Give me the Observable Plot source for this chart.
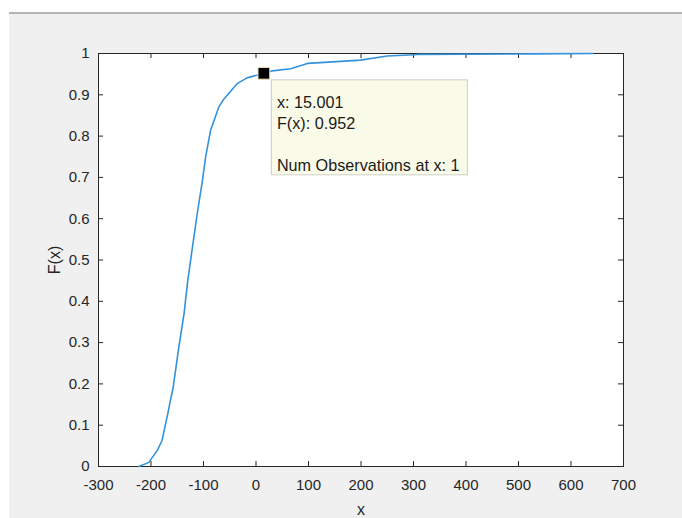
<!DOCTYPE html>
<html><head><meta charset="utf-8">
<script src="https://cdn.jsdelivr.net/npm/d3@7"></script>
<script src="https://cdn.jsdelivr.net/npm/@observablehq/plot@0.6"></script>
<style>
html,body{margin:0;padding:0;background:#fff;}
#fig{position:absolute;left:9px;top:12px;width:673px;height:504px;background:#f0f0f0;border-top:2px solid #b4b4b4;}
#chart{position:absolute;left:0;top:0;}
</style></head><body>
<div id="fig"></div><div id="chart"></div>
<script>
const ecdfX = [-223, -204, -188, -179, -168, -163, -158, -147, -137, -130, -121, -112, -102, -96, -86.5, -71, -61, -36, -17, 15.001, 31, 66, 98, 123, 199, 250, 301, 314, 527, 641];
const ecdfF = [0, 0.01, 0.039, 0.063, 0.128, 0.16, 0.19, 0.289, 0.370, 0.450, 0.531, 0.612, 0.692, 0.749, 0.814, 0.870, 0.890, 0.927, 0.941, 0.952, 0.958, 0.963, 0.976, 0.978, 0.984, 0.994, 0.997, 0.998, 0.999, 1];
const xTicks = [-300, -200, -100, 0, 100, 200, 300, 400, 500, 600, 700];
const yTicks = [0, 0.1, 0.2, 0.3, 0.4, 0.5, 0.6, 0.7, 0.8, 0.9, 1];
const tipX = 15.001;
const tipF = 0.952;
const tipCount = 1;
const xLabel = "x";
const yLabel = "F(x)";

const series = ecdfX.map((x, i) => ({x, y: ecdfF[i]}));
const tip = [{x: tipX, y: tipF}];
const tipText = `x: ${tipX.toFixed(3)}\nF(x): ${tipF.toFixed(3)}\n\nNum Observations at x: ${tipCount}`;

const W = 682, H = 518, mT = 53, mB = 52, mL = 98, mR = 59;
const plotH = H - mT - mB, plotW = W - mL - mR;
const axisColor = "#262626";
const font = "'Liberation Sans', Arial, Helvetica, sans-serif";

const chart = Plot.plot({
  width: W, height: H,
  marginTop: mT, marginBottom: mB, marginLeft: mL, marginRight: mR,
  style: {background: "transparent", fontFamily: font, fontSize: "15px", color: axisColor},
  x: {domain: [-300, 700], label: null},
  y: {domain: [0, 1], label: null},
  marks: [
    Plot.frame({fill: "white", stroke: null}),
    Plot.axisX({ticks: xTicks, tickFormat: d => String(d), tickSize: 0, tickPadding: 13, fontSize: 15, label: null, fill: axisColor}),
    Plot.axisY({ticks: yTicks, tickFormat: d => String(d), tickSize: 0, tickPadding: 9, fontSize: 15, label: null, fill: axisColor}),
    Plot.tickX(xTicks, {x: d => d, stroke: axisColor, insetTop: plotH - 5}),
    Plot.tickX(xTicks, {x: d => d, stroke: axisColor, insetBottom: plotH - 5}),
    Plot.tickY(yTicks, {y: d => d, stroke: axisColor, insetRight: plotW - 5}),
    Plot.tickY(yTicks, {y: d => d, stroke: axisColor, insetLeft: plotW - 5}),
    Plot.frame({stroke: axisColor, strokeWidth: 1}),
    Plot.line(series, {x: "x", y: "y", stroke: "#3392da", strokeWidth: 1.6}),
    Plot.rect(tip, {x1: "x", x2: "x", y1: "y", y2: "y", insetLeft: 8, insetRight: -204, insetTop: 7, insetBottom: -102, fill: "#fafae8", stroke: "#cfcfc6", strokeWidth: 1}),
    Plot.text(tip, {x: "x", y: "y", text: () => tipText, textAnchor: "start", lineAnchor: "top", dx: 13, dy: 20, fontSize: 16.2, lineHeight: 1.3, fill: "#1a1a1a"}),
    Plot.dot(tip, {x: "x", y: "y", symbol: "square", r: 6.6, fill: "black", stroke: "#e6dfb0", strokeWidth: 1}),
    Plot.text([xLabel], {frameAnchor: "bottom", text: d => d, dy: 43, textAnchor: "middle", lineAnchor: "middle", fontSize: 16, fill: axisColor}),
    Plot.text([yLabel], {frameAnchor: "left", text: d => d, dx: -44, rotate: -90, textAnchor: "middle", lineAnchor: "middle", fontSize: 16, fill: axisColor})
  ]
});
document.getElementById("chart").appendChild(chart);
</script>
</body></html>
